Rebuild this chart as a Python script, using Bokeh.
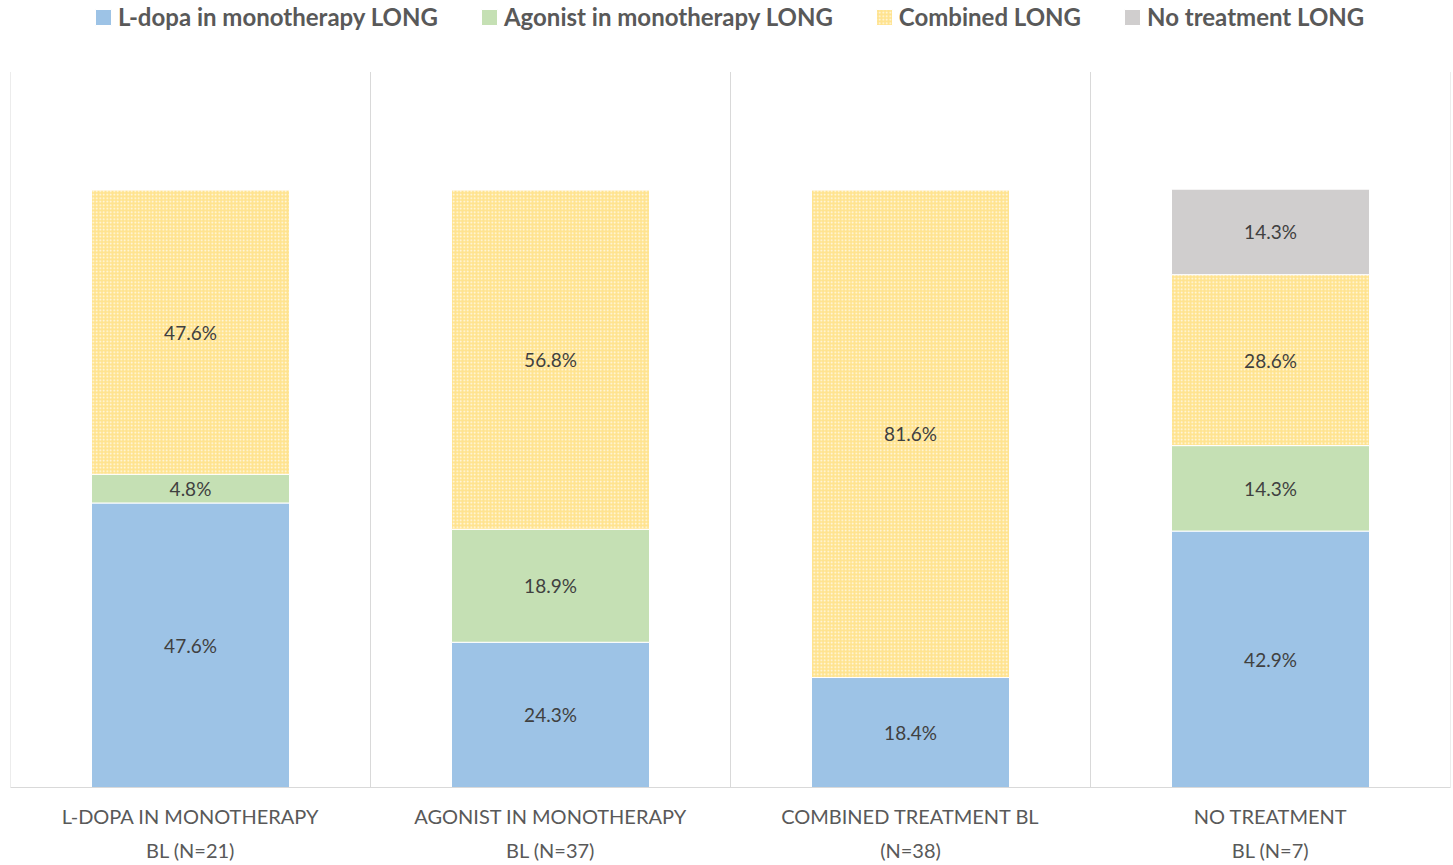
from bokeh.plotting import figure
from bokeh.models import (ColumnDataSource, Range1d, FixedTicker, Legend, LegendItem, LabelSet)
from bokeh.core.properties import value
from bokeh.embed import file_html
from bokeh.resources import INLINE
import numpy as np

categories = ["L-DOPA IN MONOTHERAPY\nBL (N=21)", "AGONIST IN MONOTHERAPY\nBL (N=37)",
              "COMBINED TREATMENT BL\n(N=38)", "NO TREATMENT\nBL (N=7)"]
series_names = ["L-dopa in monotherapy LONG", "Agonist in monotherapy LONG",
                "Combined LONG", "No treatment LONG"]
ldopa = [47.6, 24.3, 18.4, 42.9]
agonist = [4.8, 18.9, 0.0, 14.3]
combined = [47.6, 56.8, 81.6, 28.6]
notreat = [0.0, 0.0, 0.0, 14.3]
colors = ["#9DC3E6", "#C5E0B4", "#FFE38F", "#D0CECE"]

keys = ["ldopa", "agonist", "combined", "notreat"]
xs = [i + 0.5 for i in range(len(categories))]
source = ColumnDataSource(dict(x=xs, ldopa=ldopa, agonist=agonist, combined=combined, notreat=notreat))

W, H = 1453, 865
BOTTOM, LEFT, RIGHT = 75, 10, 3
frame_h = H - BOTTOM          # frame spans the full top so the legend is not clipped
Y_TOP = frame_h / 6.0         # 100 % = 600 px
GRID_TOP = 119.7              # top of the category separator lines

p = figure(width=W, height=H, output_backend="svg", toolbar_location=None,
           x_range=Range1d(0, 4), y_range=Range1d(0, Y_TOP),
           min_border_left=LEFT, min_border_right=RIGHT, min_border_top=0, min_border_bottom=BOTTOM)

# category separators
bounds = list(range(len(categories) + 1))
p.segment(x0=bounds, x1=bounds, y0=[0] * len(bounds), y1=[GRID_TOP] * len(bounds),
          line_color="#D9D9D9", line_width=1)

renderers = p.vbar_stack(keys, x="x", width=0.55, source=source,
                         fill_color=colors, line_color="white", line_width=1,
                         hatch_pattern=[" ", " ", "dot", " "], hatch_color="white",
                         hatch_scale=3.5, hatch_alpha=0.85)

# labels
vals = np.array([ldopa, agonist, combined, notreat])
cum = np.cumsum(vals, axis=0)
lx, ly, lt = [], [], []
for s in range(vals.shape[0]):
    for c in range(vals.shape[1]):
        v = vals[s, c]
        if v > 0:
            lx.append(xs[c])
            ly.append(cum[s, c] - v / 2)
            lt.append(f"{v:.1f}%")
lsrc = ColumnDataSource(dict(x=lx, y=ly, t=lt))
p.add_layout(LabelSet(x="x", y="y", text="t", source=lsrc, text_align="center",
                      text_baseline="middle", text_font=value("Lato"), text_font_size="19px",
                      text_color="#404040"))

# axes
p.yaxis.visible = False
p.xgrid.visible = False
p.ygrid.visible = False
p.xaxis.ticker = FixedTicker(ticks=xs)
p.xaxis.major_label_overrides = {x: c for x, c in zip(xs, categories)}
p.xaxis.axis_line_color = "#D9D9D9"
p.xaxis.major_tick_line_color = None
p.xaxis.minor_tick_line_color = None
p.xaxis.major_tick_out = 0
p.xaxis.major_tick_in = 0
p.xaxis.major_label_standoff = 16
p.xaxis.major_label_text_font = "Lato"
p.xaxis.major_label_text_font_size = "20px"
p.xaxis.major_label_text_color = "#595959"
p.xaxis.major_label_text_line_height = 1.45
p.outline_line_color = None

legend = Legend(items=[LegendItem(label=n, renderers=[r]) for n, r in zip(series_names, renderers)],
                orientation="horizontal", location=(83, frame_h - 34),
                label_text_font="Lato", label_text_font_size="24px", label_text_font_style="bold",
                label_text_color="#595959",
                glyph_width=20, glyph_height=20, label_standoff=5, spacing=41,
                border_line_color=None, background_fill_alpha=0, padding=0, margin=0)
p.add_layout(legend, "center")

open("out.html", "w").write(file_html(p, INLINE))
